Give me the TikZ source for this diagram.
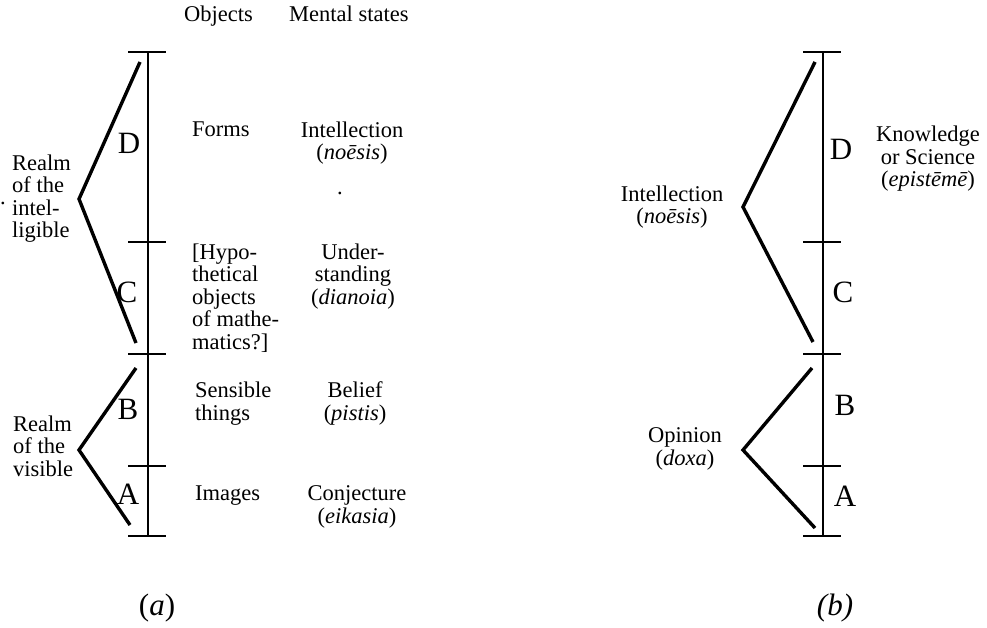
\documentclass[tikz,border=0pt]{standalone}
\usepackage{fontspec}
\setmainfont{Liberation Serif}
\usetikzlibrary{arrows,shapes}

\begin{document}
\begin{tikzpicture}[x=1pt,y=-1pt,
  every node/.style={inner sep=0pt,font=\fontsize{22.5}{22.5}\selectfont},
  seg/.style={font=\fontsize{31}{31}\selectfont},
  bar/.style={line width=2.2pt},
  tick/.style={line width=2.6pt},
  brace/.style={line width=3.4pt}]
\useasboundingbox (0,0) rectangle (987,628);
% (a) the divided line
\coordinate (a0) at (148,52);
\coordinate (a1) at (148,242);
\coordinate (a2) at (148,354);
\coordinate (a3) at (148,466);
\coordinate (a4) at (148,536);
\draw[bar] (a0) -- (a4);
\draw[tick] ([xshift=-20]a0) -- ([xshift=18]a0);
\draw[tick] ([xshift=-20]a1) -- ([xshift=18]a1);
\draw[tick] ([xshift=-20]a2) -- ([xshift=18]a2);
\draw[tick] ([xshift=-20]a3) -- ([xshift=18]a3);
\draw[tick] ([xshift=-20]a4) -- ([xshift=18]a4);
\node[seg](aD)at(129,143){D};
\node[seg](aC)at(127,292){C};
\node[seg](aB)at(128,409){B};
\node[seg](aA)at(128,494){A};
\coordinate (aUpTop) at (140,62);
\coordinate (aUpTip) at (79,199);
\coordinate (aUpBot) at (136,343);
\coordinate (aLoTop) at (136,368);
\coordinate (aLoTip) at (79,450);
\coordinate (aLoBot) at (130,525);
\draw[brace] (aUpTop) -- (aUpTip) -- (aUpBot);
\draw[brace] (aLoTop) -- (aLoTip) -- (aLoBot);
% multi-line nodes sit on the baseline of their last line
\node[anchor=base west](Objects)at(184,22){Objects};
\node[anchor=base west](Mental)at(289,22){Mental states};
\node[anchor=base west,align=left](Intelligible)at(12,238){Realm\\of the\\intel-\\ligible};
\node[anchor=base west](Stray)at(0,205){.};
\node[anchor=base west,align=left](Visible)at(13,476){Realm\\of the\\visible};
\node[anchor=base west](Forms)at(192,137){Forms};
\node[anchor=base,align=center](Noesis)at(352,160){Intellection\\(\textit{noēsis})};
\node[anchor=base](Dot)at(340,195){.};
\node[anchor=base west,align=left](Hypo)at(192,349){[Hypo-\\thetical\\objects\\of mathe-\\matics?]};
\node[anchor=base,align=center](Dianoia)at(353,304){Under-\\standing\\(\textit{dianoia})};
\node[anchor=base west,align=left](Sensible)at(195,420){Sensible\\things};
\node[anchor=base,align=center](Pistis)at(355,420){Belief\\(\textit{pistis})};
\node[anchor=base west](Images)at(195,500){Images};
\node[anchor=base,align=center](Eikasia)at(357,523){Conjecture\\(\textit{eikasia})};
\node[seg,anchor=base](CapA)at(157,615){(\textit{a})};
% (b) the same line, two halves
\coordinate (b0) at (823,52);
\coordinate (b1) at (823,242);
\coordinate (b2) at (823,354);
\coordinate (b3) at (823,466);
\coordinate (b4) at (823,536);
\draw[bar] (b0) -- (b4);
\draw[tick] ([xshift=-20]b0) -- ([xshift=18]b0);
\draw[tick] ([xshift=-20]b1) -- ([xshift=18]b1);
\draw[tick] ([xshift=-20]b2) -- ([xshift=18]b2);
\draw[tick] ([xshift=-20]b3) -- ([xshift=18]b3);
\draw[tick] ([xshift=-20]b4) -- ([xshift=18]b4);
\node[seg](bD)at(841,149){D};
\node[seg](bC)at(843,292){C};
\node[seg](bB)at(845,405){B};
\node[seg](bA)at(845,496){A};
\coordinate (bUpTop) at (815,62);
\coordinate (bUpTip) at (743,207);
\coordinate (bUpBot) at (813,342);
\coordinate (bLoTop) at (812,368);
\coordinate (bLoTip) at (743,450);
\coordinate (bLoBot) at (815,528);
\draw[brace] (bUpTop) -- (bUpTip) -- (bUpBot);
\draw[brace] (bLoTop) -- (bLoTip) -- (bLoBot);
\node[anchor=base,align=center](Intellection)at(672,224){Intellection\\(\textit{noēsis})};
\node[anchor=base,align=center](Episteme)at(928,187){Knowledge\\or Science\\(\textit{epistēmē})};
\node[anchor=base,align=center](Doxa)at(685,465){Opinion\\(\textit{doxa})};
\node[seg,anchor=base](CapB)at(835,615){\textit{(b)}};
\end{tikzpicture}
\end{document}
